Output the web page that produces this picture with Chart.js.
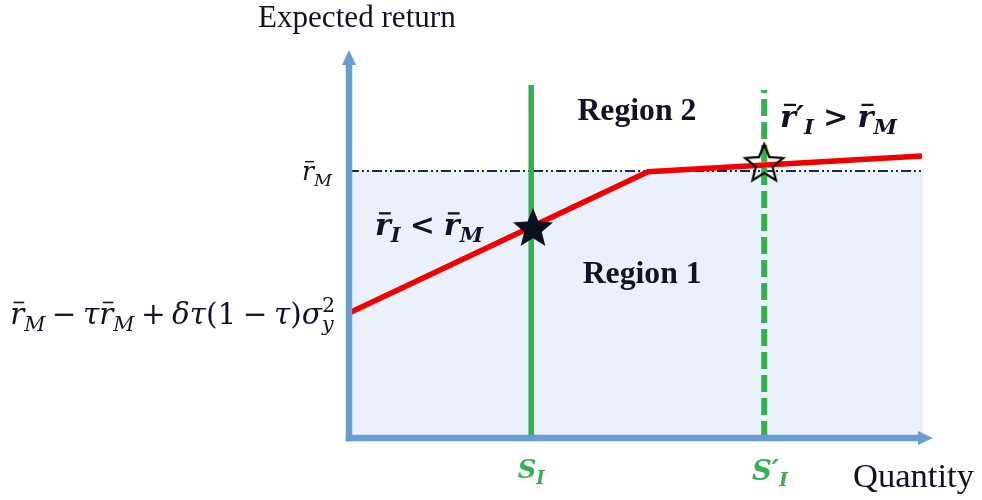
<!DOCTYPE html>
<html><head><meta charset="utf-8">
<script src="https://cdn.jsdelivr.net/npm/chart.js@4"></script>
<style>html,body{margin:0;padding:0;background:#fff}#wrap{width:982px;height:500px;position:relative}</style>
</head><body><div id="wrap"><canvas id="c"></canvas></div>
<script>
// ---------- data ----------
const xRange = [0, 10];
const yRange = [0, 10];
const marketReturn = 6.88;            // r̄_M level
const regionEndX = 9.83;              // end of shaded region / dash-dot line
const curveX = [0, 5.12, 9.81];       // red expected-return curve
const curveY = [3.22, 6.86, 7.27];
const supplyX = [3.12, 7.11];         // S_I (solid), S'_I (dashed)
const supplyTop = [9.10, 8.97];
const starX = [3.15, 7.11];           // filled star, hollow star
const starY = [5.44, 7.11];
const axisTitles = ['Expected return', 'Quantity'];
const regionLabels = ['Region 2', 'Region 1'];
const regionLabelX = [4.93, 5.02];
const regionLabelY = [8.20, 3.99];

// ---------- styles ----------
const AXIS = '#6b9bd3', SHADE = '#eaf1fa', NAVY = '#1b2660', RED = '#f20000', GREEN = '#33b050', TXT = '#121226';
const MATH = '"DejaVu Serif", serif';
const TEXT = '"Liberation Serif", serif';

function starImage(R, filled) {
  const c = document.createElement('canvas');
  const s = Math.ceil(R * 2 + 6);
  c.width = s; c.height = s;
  const g = c.getContext('2d');
  const cx = s / 2, cy = s / 2 + R * 0.1, r = R * 0.44;
  g.beginPath();
  for (let i = 0; i < 10; i++) {
    const a = -Math.PI / 2 + i * Math.PI / 5;
    const rr = i % 2 ? r : R;
    g.lineTo(cx + rr * Math.cos(a), cy + rr * Math.sin(a));
  }
  g.closePath();
  if (filled) { g.fillStyle = '#0b0f1e'; g.fill(); }
  else { g.lineWidth = 2.2; g.strokeStyle = '#000'; g.lineJoin = 'miter'; g.stroke(); }
  return c;
}

// rich text (sub/superscripts, bars)
function measureRich(ctx, segs, size, fam, wt) {
  let x = 0; const items = [];
  for (const s of segs) {
    if (s.gap != null) { x += s.gap * size; continue; }
    const sz = (s.sub || s.sup) ? size * 0.7 : size;
    const font = `${s.it ? 'italic ' : ''}${wt} ${sz}px ${fam}`;
    ctx.font = font;
    const w = ctx.measureText(s.t).width;
    let w2 = 0, font2 = null;
    if (s.over) { font2 = `${wt} ${size * 0.7}px ${fam}`; ctx.font = font2; w2 = ctx.measureText(s.over).width; }
    items.push({ s, x, w, font, font2 });
    x += Math.max(w, w2);
  }
  return { items, width: x };
}
function drawRich(ctx, segs, x, y, o) {
  let size = o.size || 20;
  if (o.fitW) { const m = measureRich(ctx, segs, 100, o.fam, o.wt); size = 100 * o.fitW / m.width; }
  const L = measureRich(ctx, segs, size, o.fam, o.wt);
  const x0 = o.align === 'right' ? x - L.width : o.align === 'center' ? x - L.width / 2 : x;
  ctx.save();
  ctx.fillStyle = o.color; ctx.textBaseline = 'alphabetic'; ctx.textAlign = 'left';
  for (const it of L.items) {
    const s = it.s; let yy = y;
    if (s.sub) yy += size * 0.24;
    if (s.sup) yy -= size * 0.42;
    ctx.font = it.font;
    ctx.fillText(s.t, x0 + it.x, yy);
    if (s.over) { ctx.font = it.font2; ctx.fillText(s.over, x0 + it.x, y - size * 0.40); }
    if (s.bar) {
      const th = Math.max(1.3, size * (o.wt === 'bold' ? 0.075 : 0.055));
      ctx.fillRect(x0 + it.x + it.w * 0.25, y - size * 0.76, it.w * 0.75, th);
    }
  }
  ctx.restore();
}
function fitText(ctx, text, x, y, fam, wt, fitW, align) {
  ctx.font = `${wt} 100px ${fam}`;
  const size = 100 * fitW / ctx.measureText(text).width;
  ctx.font = `${wt} ${size}px ${fam}`;
  ctx.textAlign = align;
  ctx.fillText(text, x, y);
}

const rBar = () => ({ t: 'r', it: 1, bar: 1 });
const segRM = [rBar(), { t: 'M', it: 1, sub: 1 }];
const segFormula = [rBar(), { t: 'M', it: 1, sub: 1 }, { gap: 0.22 }, { t: '−' }, { gap: 0.22 },
  { t: 'τ', it: 1 }, rBar(), { t: 'M', it: 1, sub: 1 }, { gap: 0.22 }, { t: '+' }, { gap: 0.22 },
  { t: 'δτ', it: 1 }, { t: '(1' }, { gap: 0.22 }, { t: '−' }, { gap: 0.22 }, { t: 'τ', it: 1 }, { t: ')' },
  { t: 'σ', it: 1 }, { t: 'y', it: 1, sub: 1, over: '2' }];
const segLess = [rBar(), { t: 'I', it: 1, sub: 1 }, { gap: 0.3 }, { t: '<' }, { gap: 0.3 }, rBar(), { t: 'M', it: 1, sub: 1 }];
const segGreater = [rBar(), { t: '′', it: 1 }, { t: 'I', it: 1, sub: 1 }, { gap: 0.3 }, { t: '>' }, { gap: 0.3 }, rBar(), { t: 'M', it: 1, sub: 1 }];
const segS = [{ t: 'S', it: 1 }, { t: 'I', it: 1, sub: 1 }];
const segSp = [{ t: 'S', it: 1 }, { t: '′', it: 1 }, { t: 'I', it: 1, sub: 1 }];

const overlay = {
  id: 'overlay',
  afterDatasetsDraw(chart) {
    const { ctx, scales: { x, y } } = chart;
    const x0 = x.getPixelForValue(xRange[0]), x1 = x.getPixelForValue(xRange[1]);
    const y0 = y.getPixelForValue(yRange[0]), y1 = y.getPixelForValue(yRange[1]);
    const lw = 6.5, ah = 15, aw = 7;
    ctx.save();
    ctx.fillStyle = AXIS;
    ctx.fillRect(x0 - lw / 2, y1 + ah - 1, lw, y0 - y1 - ah + lw / 2 + 1);
    ctx.beginPath(); ctx.moveTo(x0, y1); ctx.lineTo(x0 - aw, y1 + ah); ctx.lineTo(x0 + aw, y1 + ah); ctx.closePath(); ctx.fill();
    ctx.fillRect(x0 - lw / 2, y0 - lw / 2, x1 - ah - x0 + lw / 2 + 1, lw);
    ctx.beginPath(); ctx.moveTo(x1, y0); ctx.lineTo(x1 - ah, y0 - aw); ctx.lineTo(x1 - ah, y0 + aw); ctx.closePath(); ctx.fill();
    ctx.restore();
  },
  afterDraw(chart) {
    const { ctx, scales: { x, y } } = chart;
    const ax = x.getPixelForValue(0);
    ctx.save();
    ctx.fillStyle = TXT; ctx.textBaseline = 'alphabetic';
    fitText(ctx, axisTitles[0], x.getPixelForValue(-1.56), y.getPixelForValue(10.59), TEXT, 'normal', 198, 'left');
    fitText(ctx, axisTitles[1], x.getPixelForValue(8.63), y.getPixelForValue(-1.26), TEXT, 'normal', 121, 'left');
    regionLabels.forEach((t, i) => fitText(ctx, t, x.getPixelForValue(regionLabelX[i]), y.getPixelForValue(regionLabelY[i]), TEXT, 'bold', 119, 'center'));
    ctx.restore();
    drawRich(ctx, segRM, ax - 17, y.getPixelForValue(marketReturn) + 9, { fam: MATH, wt: 'normal', color: TXT, align: 'right', fitW: 30 });
    drawRich(ctx, segFormula, ax - 14, y.getPixelForValue(curveY[0]) + 11, { fam: MATH, wt: 'normal', color: TXT, align: 'right', fitW: 325 });
    drawRich(ctx, segLess, x.getPixelForValue(0.445), y.getPixelForValue(5.23), { fam: MATH, wt: 'bold', color: TXT, align: 'left', fitW: 108 });
    drawRich(ctx, segGreater, x.getPixelForValue(7.38), y.getPixelForValue(8.02), { fam: MATH, wt: 'bold', color: TXT, align: 'left', fitW: 117 });
    drawRich(ctx, segS, x.getPixelForValue(supplyX[0]), y.getPixelForValue(-1.03), { fam: MATH, wt: 'bold', color: GREEN, align: 'center', fitW: 27 });
    drawRich(ctx, segSp, x.getPixelForValue(6.90), y.getPixelForValue(-1.08), { fam: MATH, wt: 'bold', color: GREEN, align: 'left', fitW: 36 });
  }
};

new Chart(document.getElementById('c'), {
  type: 'line',
  data: {
    datasets: [
      { data: [{ x: xRange[0], y: marketReturn }, { x: regionEndX, y: marketReturn }], fill: 'origin',
        backgroundColor: SHADE, borderColor: NAVY, borderWidth: 2, borderDash: [10, 3, 2, 3, 2, 3], pointRadius: 0, order: 6 },
      { data: [{ x: supplyX[0], y: yRange[0] }, { x: supplyX[0], y: supplyTop[0] }], borderColor: GREEN, borderWidth: 5.5, pointRadius: 0, order: 5, fill: false },
      { data: [{ x: supplyX[1], y: yRange[0] }, { x: supplyX[1], y: supplyTop[1] }], borderColor: GREEN, borderWidth: 6, borderDash: [17, 6], pointRadius: 0, order: 4, fill: false },
      { data: curveX.map((v, i) => ({ x: v, y: curveY[i] })), borderColor: RED, borderWidth: 5.5, pointRadius: 0, order: 3, fill: false, borderJoinStyle: 'miter' },
      { type: 'scatter', data: starX.map((v, i) => ({ x: v, y: starY[i] })), pointStyle: [starImage(21, true), starImage(20, false)],
        pointRadius: 21, order: 1 }
    ]
  },
  options: {
    animation: false, responsive: true, maintainAspectRatio: false, devicePixelRatio: 1,
    layout: { padding: { left: 349, right: 49, top: 50, bottom: 62 } },
    plugins: { legend: { display: false }, tooltip: { enabled: false } },
    elements: { line: { tension: 0 } },
    scales: {
      x: { type: 'linear', min: xRange[0], max: xRange[1], display: false },
      y: { type: 'linear', min: yRange[0], max: yRange[1], display: false }
    },
    clip: false
  },
  plugins: [overlay]
});
</script></body></html>
